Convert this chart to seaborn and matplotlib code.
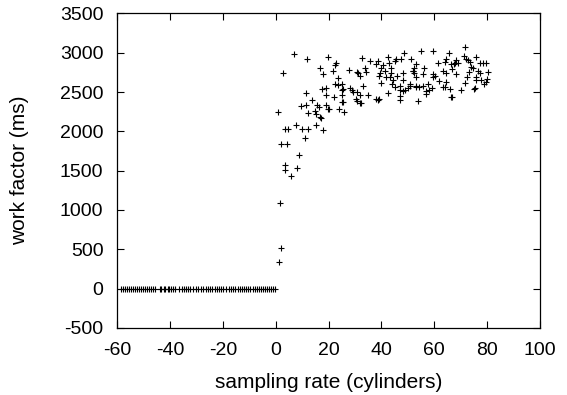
import numpy as np
import pandas as pd
from matplotlib import pyplot as plt
import seaborn as sns

# flat part: samples that hit the zero floor
zero_x = [-58.5, -57.8, -57.0, -56.3, -55.5, -54.9, -54.1, -53.4, -52.6, -51.9,
          -51.1, -50.4, -49.6, -48.9, -48.1, -47.4, -46.6, -45.9, -44.0, -43.3,
          -42.5, -41.8, -41.0, -40.3, -39.5, -38.8, -38.0, -36.5, -35.6, -34.9,
          -34.0, -33.2, -32.3, -31.2, -30.2, -29.3, -28.4, -27.6, -26.4, -25.6,
          -24.8, -24.0, -23.2, -22.4, -21.6, -20.8, -19.9, -18.8, -17.8, -17.0,
          -16.2, -15.3, -14.4, -13.5, -12.8, -12.0, -11.2, -10.4, -9.6, -8.8,
          -8.0, -7.2, -6.4, -5.6, -4.8, -4.0, -3.2, -2.5, -1.8, -1.0, -0.4]
zero_y = [0] * len(zero_x)

# rising part and plateau
ramp_x = [1.3, 2.1, 1.5, 0.9, 2.8, 1.8, 4.4, 3.4, 3.4, 5.9, 8.1, 8.8, 11.0, 3.4, 4.7,
          7.5, 10.0, 12.2, 15.2, 17.9, 6.9, 11.9, 16.7, 17.7, 17.5, 11.4, 13.8, 9.7,
          11.6, 15.6, 16.4, 19.2, 19.6, 20.2, 12.2, 14.8, 15.2, 16.7, 17.3, 24.0, 25.9,
          25.3, 30.6, 32.2, 19.2, 19.2, 22.3, 23.6, 24.9, 24.9, 24.9, 22.1, 24.9]
ramp_y = [333, 511, 1084, 2250, 2738, 1838, 1838, 1571, 1508, 1431, 1529, 1698, 1911, 2029, 2029,
          2076, 2033, 2033, 2080, 2020, 2980, 2920, 2801, 2725, 2534, 2483, 2398, 2322,
          2331, 2339, 2313, 2335, 2288, 2284, 2229, 2262, 2220, 2186, 2165, 2284, 2250,
          2377, 2386, 2356, 2547, 2462, 2598, 2589, 2598, 2525, 2462, 2440, 2377]

mid_x = [19.8, 23.0, 22.6, 21.7, 23.6, 27.7, 30.6, 31.2, 32.0, 32.7, 35.6, 38.8, 33.7, 34.3,
         37.9, 40.0, 39.4, 42.5, 42.9, 43.8, 43.6, 45.1, 45.7, 47.6, 48.6, 51.4, 53.3, 52.0,
         52.4, 48.2, 41.9, 43.2, 48.2, 53.3, 40.0, 47.0, 48.2, 49.1, 47.2, 50.8, 53.3, 42.5,
         35.0, 38.1, 39.1, 47.0, 47.0, 53.9, 33.1, 30.9, 31.8, 28.0, 28.7, 29.3, 30.3, 31.8,
         25.3, 38.8, 40.5, 41.5, 39.0, 44.0, 45.0, 46.0, 44.5]
mid_y = [2949, 2873, 2843, 2771, 2674, 2780, 2750, 2738, 2700, 2936, 2894, 2898, 2801, 2758,
         2852, 2801, 2738, 2949, 2873, 2801, 2738, 2898, 2916, 2916, 2992, 2916, 2856, 2771,
         2746, 2738, 2687, 2687, 2653, 2687, 2618, 2525, 2517, 2525, 2576, 2598, 2567, 2491,
         2462, 2407, 2407, 2449, 2398, 2389, 2576, 2504, 2462, 2547, 2525, 2504, 2407, 2364,
         2534, 2398, 2850, 2770, 2700, 2600, 2560, 2700, 2650]

right_x = [54.9, 59.6, 65.6, 64.4, 64.0, 61.5, 66.5, 67.5, 69.0, 52.3, 51.8, 56.2, 55.6, 59.6,
           59.6, 60.2, 63.4, 64.6, 68.4, 66.9, 61.9, 63.4, 64.0, 64.6, 65.9, 66.8, 51.0, 50.1,
           53.0, 54.3, 55.6, 57.5, 57.0, 58.0, 59.0, 56.8, 71.6, 71.2, 72.0, 72.9, 73.5, 76.0,
           77.3, 78.5, 79.5, 74.0, 74.7, 68.4, 67.8, 80.2, 76.6, 77.3, 76.0, 76.0, 77.9, 79.8,
           71.6, 75.0, 75.4, 70.3, 66.5, 72.5, 73.2, 79.0, 80.0]
right_y = [3025, 3025, 2992, 2920, 2886, 2865, 2856, 2856, 2865, 2801, 2767, 2809, 2725, 2725,
           2695, 2708, 2767, 2738, 2725, 2793, 2640, 2567, 2567, 2631, 2538, 2433, 2580, 2555,
           2580, 2567, 2580, 2598, 2513, 2525, 2547, 2471, 3076, 2958, 2916, 2907, 2886, 2941,
           2865, 2865, 2873, 2822, 2801, 2907, 2865, 2758, 2771, 2738, 2687, 2653, 2653, 2631,
           2618, 2534, 2547, 2525, 2440, 2690, 2750, 2600, 2660]

df = pd.DataFrame({
    'rate': zero_x + ramp_x + mid_x + right_x,
    'work': zero_y + ramp_y + mid_y + right_y,
})

sns.set_style('ticks')
plt.rcParams['font.family'] = ['Liberation Sans', 'DejaVu Sans']
plt.rcParams['axes.unicode_minus'] = False
plt.rcParams['text.color'] = 'black'
plt.rcParams['axes.labelcolor'] = 'black'

fig = plt.figure(figsize=(5.67, 3.95), dpi=100)
ax = fig.add_axes([0.207, 0.170, 0.745, 0.796])

sns.scatterplot(data=df, x='rate', y='work', ax=ax, marker='+', s=14,
                color='black', linewidth=0.8)

ax.set_xlim(-60, 100)
ax.set_ylim(-500, 3500)
ax.set_xticks(range(-60, 101, 20))
ax.set_yticks(range(-500, 3501, 500))
ax.tick_params(direction='in', length=5, width=0.8, top=True, right=True,
               labelsize=14, colors='black', pad=10)
for sp in ax.spines.values():
    sp.set_visible(True)
    sp.set_linewidth(0.9)
    sp.set_color('black')

ax.set_xlabel('sampling rate (cylinders)', fontsize=15, labelpad=10)
ax.set_ylabel('work factor (ms)', fontsize=15, labelpad=22)

fig.savefig('out.png', dpi=100)
